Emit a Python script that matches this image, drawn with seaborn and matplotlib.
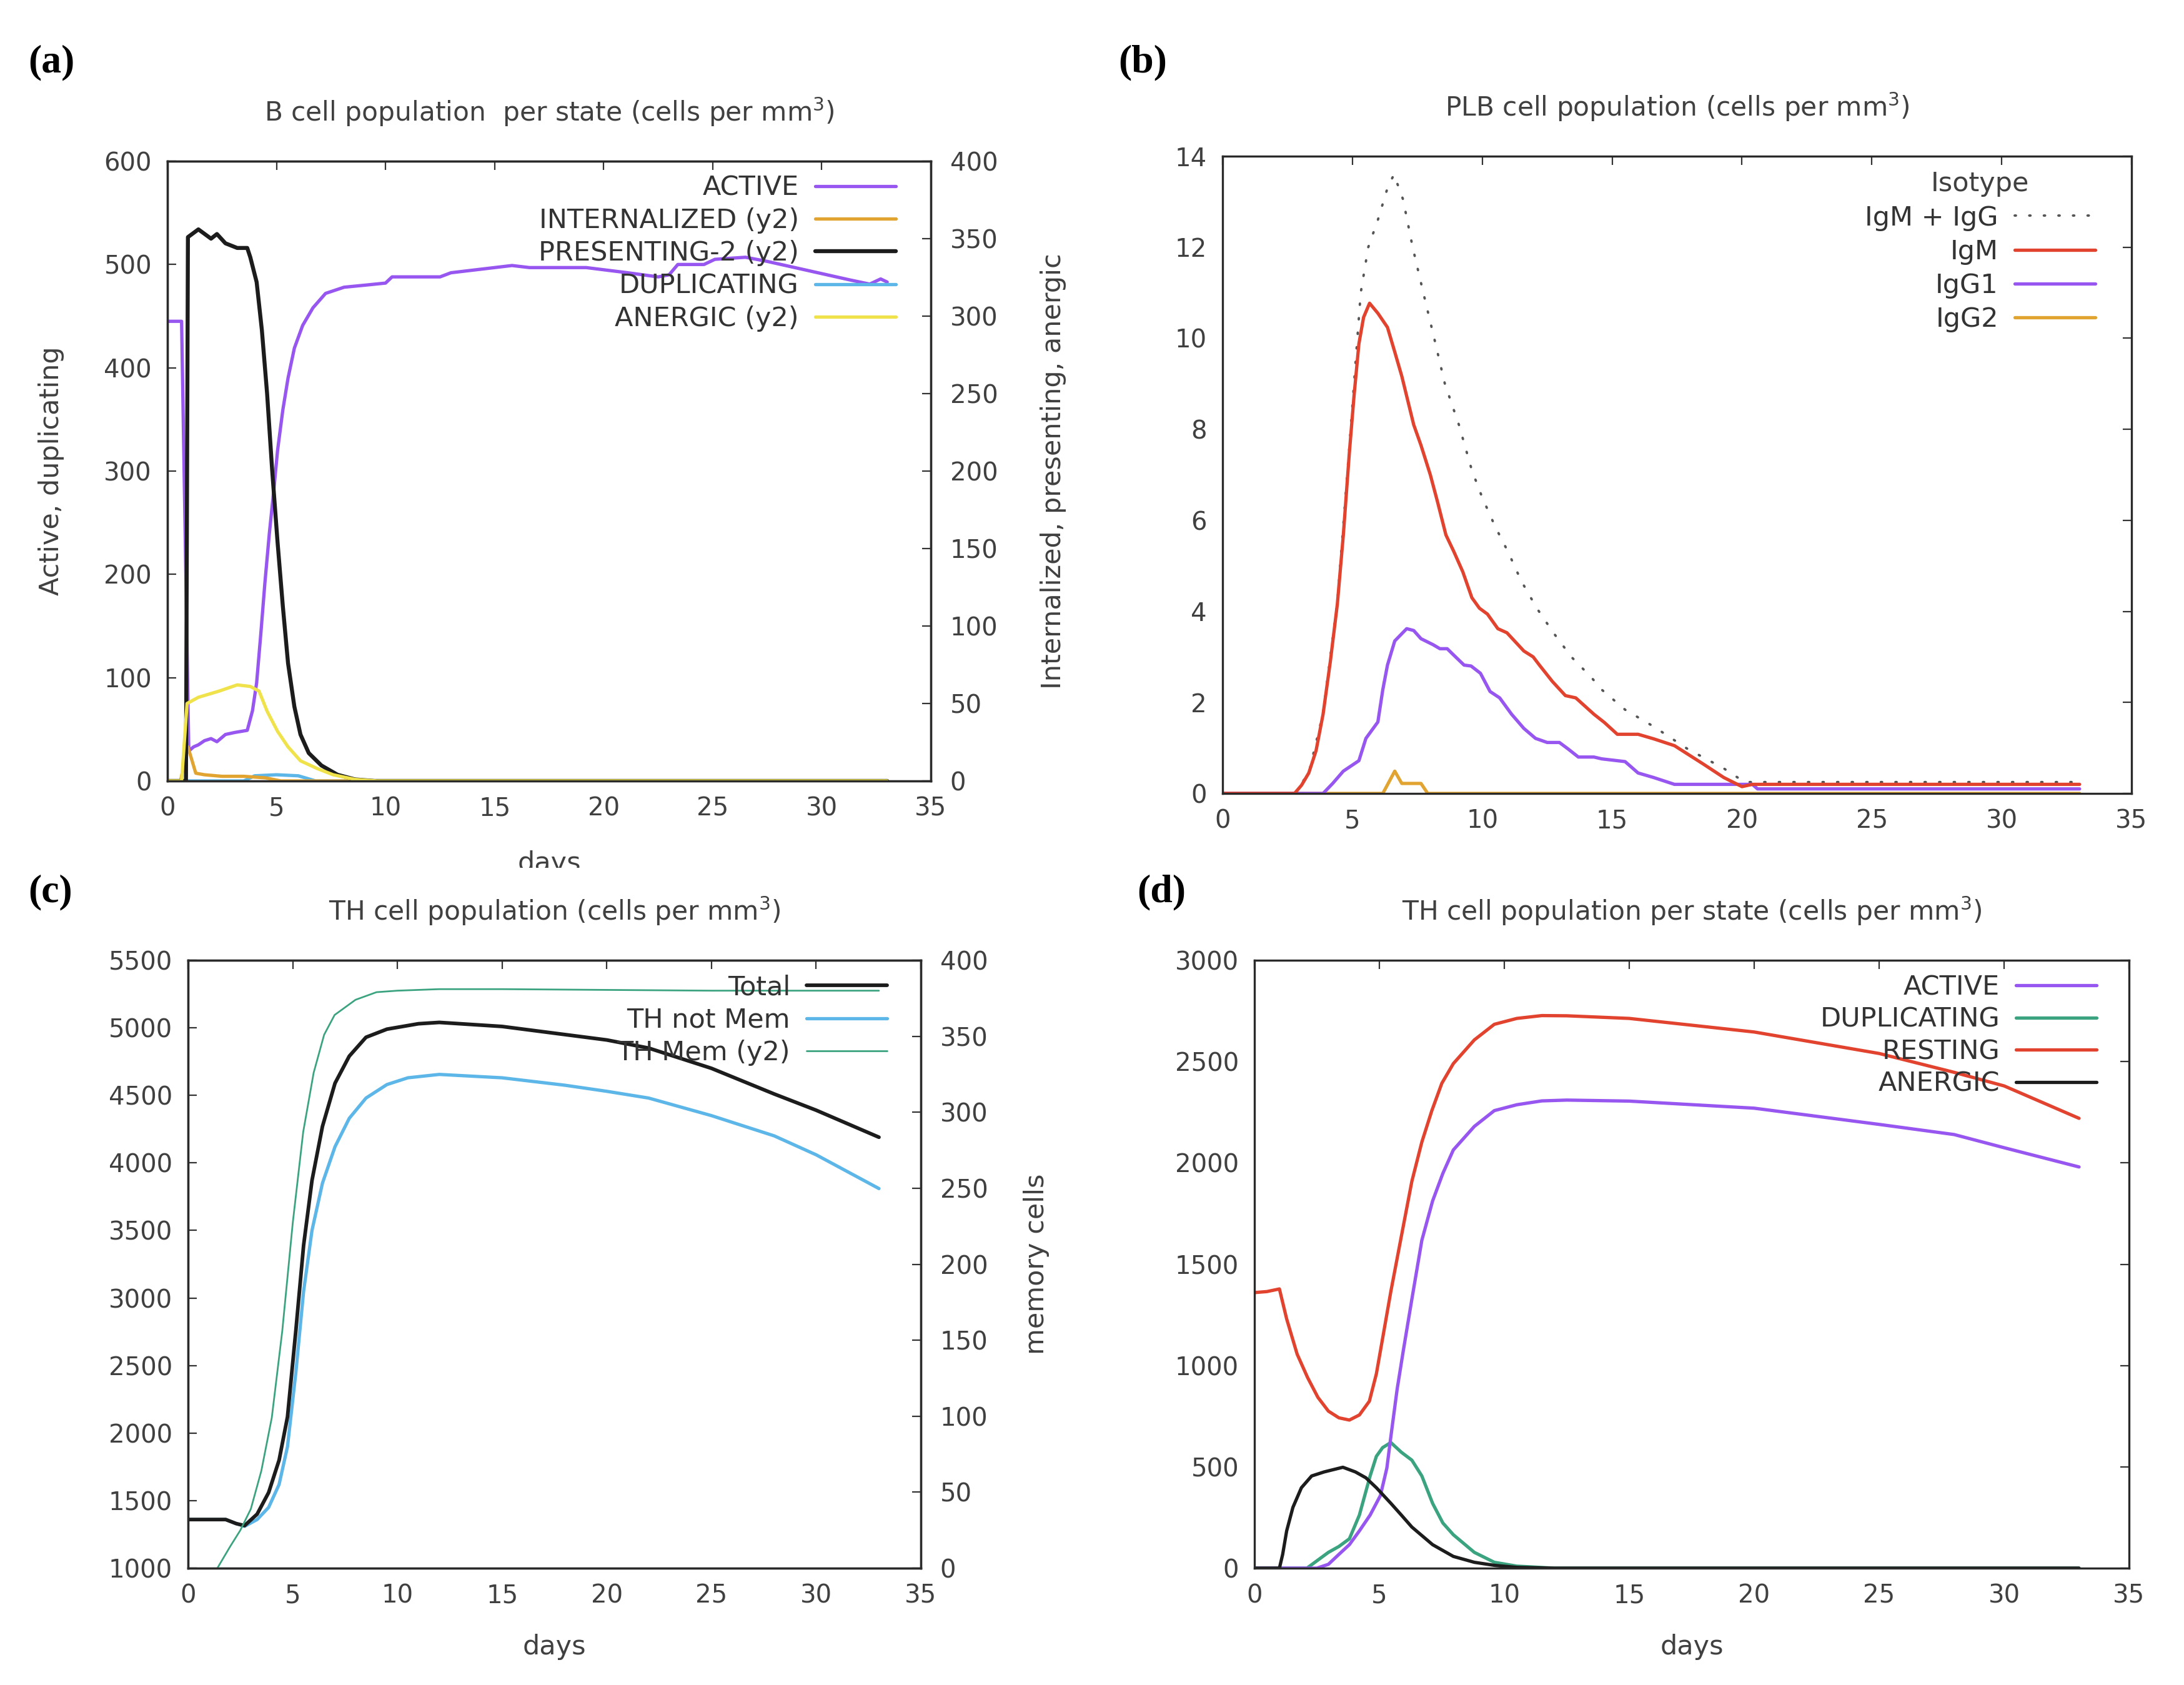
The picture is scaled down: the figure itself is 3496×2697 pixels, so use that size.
import matplotlib
matplotlib.use("Agg")
import matplotlib.pyplot as plt
from matplotlib.patches import Rectangle
import pandas as pd
import seaborn as sns

# ---------------- data ----------------
# (a) B cell population per state
a_active_day = [0, 0.65, 0.98, 1.2, 1.42, 1.7, 2.0, 2.27, 2.66, 3.1, 3.66, 3.9, 4.09, 4.28, 4.47, 4.67, 4.86,
                5.05, 5.29, 5.53, 5.82, 6.2, 6.67, 7.25, 8.1, 9.07, 10.0, 10.3, 12.5, 13.0, 14.6, 15.8, 16.6,
                19.2, 21.1, 22.5, 23.0, 23.4, 24.6, 25.1, 26.5, 27.5, 29.4, 31.3, 32.2, 32.7, 33.0]
a_active = [445, 445, 29, 33, 35, 39, 41, 38, 45, 47, 49, 68, 95, 142, 192, 239, 278,
            320, 359, 390, 419, 441, 458, 472, 478, 480, 482, 488, 488, 492, 496, 499, 497,
            497, 492, 488, 490, 500, 500, 505, 507, 503, 494, 485, 481, 486, 483]
a_present_day = [0, 0.85, 0.94, 1.42, 2.0, 2.27, 2.66, 3.2, 3.66, 3.8, 4.09, 4.33, 4.57, 4.8, 5.05, 5.29,
                 5.53, 5.82, 6.1, 6.48, 7.06, 7.8, 8.6, 9.5, 33]
a_present = [0, 0, 351, 356, 350, 353, 347, 344, 344, 338, 322, 291, 250, 201, 154, 113,
             76, 48, 30, 18, 10, 4, 1, 0, 0]
a_anergic_day = [0, 0.65, 0.9, 1.42, 2.37, 3.2, 3.8, 4.2, 4.57, 5.05, 5.53, 6.1, 6.87, 7.6, 8.6, 9.6, 33]
a_anergic = [0, 0, 50, 54, 58, 62, 61, 58, 45, 32, 22, 13, 8, 4, 1, 0, 0]
a_internal_day = [0, 0.6, 0.94, 1.3, 1.7, 2.5, 3.5, 4.5, 5.2, 33]
a_internal = [0, 0, 22, 5, 4, 3, 3, 2, 0, 0]
a_dup_day = [0, 3.5, 4.0, 5.0, 6.0, 6.8, 33]
a_dup = [0, 0, 5, 6, 5, 0, 0]

# (b) PLB cell population
b_igm_day = [0, 2.77, 3.04, 3.32, 3.6, 3.87, 4.15, 4.42, 4.65, 4.88, 5.06, 5.25, 5.43, 5.66, 5.98, 6.35,
             6.63, 6.9, 7.36, 7.64, 8.0, 8.28, 8.6, 8.9, 9.25, 9.6, 9.89, 10.2, 10.6, 10.95, 11.6, 11.96,
             12.2, 12.7, 13.2, 13.6, 14.3, 14.7, 15.2, 16.0, 16.6, 17.4, 18.5, 19.3, 20.0, 20.4, 33]
b_igm = [0, 0, 0.18, 0.45, 0.94, 1.74, 2.9, 4.16, 5.68, 7.47, 8.72, 9.88, 10.46, 10.77, 10.55, 10.24,
         9.7, 9.17, 8.1, 7.65, 7.0, 6.4, 5.68, 5.32, 4.87, 4.3, 4.07, 3.94, 3.62, 3.53, 3.13, 3.0,
         2.82, 2.46, 2.15, 2.1, 1.74, 1.56, 1.3, 1.3, 1.2, 1.05, 0.65, 0.35, 0.15, 0.2, 0.2]
b_igg1_day = [0, 3.87, 4.24, 4.65, 5.25, 5.52, 5.98, 6.17, 6.35, 6.63, 7.09, 7.36, 7.64, 8.1, 8.37, 8.65,
              8.9, 9.3, 9.57, 9.93, 10.3, 10.67, 11.13, 11.6, 12.05, 12.5, 12.97, 13.3, 13.7, 14.3, 14.6,
              15.5, 16.0, 16.6, 17.4, 20.4, 20.6, 33]
b_igg1 = [0, 0, 0.22, 0.49, 0.72, 1.21, 1.57, 2.28, 2.82, 3.35, 3.62, 3.58, 3.4, 3.27, 3.18, 3.18,
          3.04, 2.82, 2.8, 2.64, 2.24, 2.1, 1.74, 1.43, 1.21, 1.12, 1.12, 0.98, 0.8, 0.8, 0.76,
          0.7, 0.45, 0.35, 0.2, 0.2, 0.1, 0.1]
b_igg2_day = [0, 6.17, 6.63, 6.9, 7.64, 7.9, 33]
b_igg2 = [0, 0, 0.49, 0.22, 0.22, 0, 0]
b_total_day = [0, 2.77, 3.32, 3.87, 4.42, 4.88, 5.32, 5.61, 5.98, 6.35, 6.6, 6.95, 7.32, 7.73, 8.15, 8.56,
               9.1, 9.6, 10.0, 10.5, 11.0, 11.5, 12.1, 12.74, 13.43, 14.2, 14.6, 15.5, 16.6, 17.9, 19.3,
               20.1, 33]
b_total = [0, 0, 0.45, 1.76, 4.2, 7.6, 11.0, 12.0, 12.6, 13.3, 13.6, 13.05, 12.0, 11.0, 10.0, 9.0,
           8.1, 7.1, 6.5, 5.86, 5.3, 4.67, 4.07, 3.53, 3.0, 2.55, 2.28, 1.84, 1.47, 0.98, 0.55,
           0.25, 0.25]

# (c) TH cell population
c_total_day = [0, 1.8, 2.3, 2.7, 3.3, 3.85, 4.35, 4.75, 5.15, 5.52, 5.92, 6.42, 7.02, 7.7, 8.5, 9.5,
               11, 12, 15, 20, 22, 25, 28, 30, 33]
c_total = [1360, 1360, 1330, 1315, 1400, 1560, 1800, 2120, 2760, 3390, 3870, 4270, 4590, 4790, 4930, 4990,
           5030, 5040, 5010, 4910, 4850, 4700, 4510, 4390, 4190]
c_notmem_day = [0, 1.8, 2.3, 2.7, 3.3, 3.85, 4.35, 4.75, 5.15, 5.52, 5.92, 6.42, 7.02, 7.7, 8.5, 9.5,
                10.5, 12, 15, 18, 20, 22, 25, 28, 30, 33]
c_notmem = [1360, 1360, 1330, 1310, 1360, 1450, 1620, 1900, 2450, 3050, 3500, 3850, 4120, 4330, 4480, 4580,
            4630, 4655, 4630, 4575, 4530, 4480, 4350, 4200, 4060, 3810]
c_mem_day = [1.4, 2.0, 2.5, 3.0, 3.5, 4.0, 4.5, 5.0, 5.5, 6.0, 6.5, 7.0, 8.0, 9.0, 10.0, 12.0, 15, 25, 33]
c_mem = [0, 14, 25, 39, 64, 99, 156, 227, 287, 326, 351, 364, 374, 379, 380, 381, 381, 380, 380]

# (d) TH cell population per state
d_resting_day = [0, 0.5, 1.0, 1.29, 1.71, 2.13, 2.54, 2.96, 3.38, 3.8, 4.2, 4.6, 4.88, 5.13, 5.46, 5.88,
                 6.3, 6.7, 7.1, 7.5, 7.96, 8.8, 9.6, 10.5, 11.5, 12.5, 15, 20, 25, 28, 30, 33]
d_resting = [1360, 1365, 1378, 1230, 1056, 940, 843, 775, 742, 731, 756, 824, 959, 1134, 1366, 1638,
             1909, 2103, 2258, 2393, 2490, 2607, 2684, 2713, 2727, 2726, 2713, 2646, 2540, 2447, 2380, 2220]
d_active_day = [0, 2.5, 2.96, 3.38, 3.8, 4.2, 4.63, 5.04, 5.3, 5.46, 5.71, 5.96, 6.3, 6.7, 7.13, 7.54,
                7.96, 8.8, 9.6, 10.5, 11.5, 12.5, 15, 20, 25, 28, 30, 33]
d_active = [0, 0, 19, 68, 116, 184, 262, 358, 494, 649, 882, 1075, 1327, 1618, 1812, 1948,
            2064, 2180, 2258, 2287, 2306, 2310, 2305, 2270, 2190, 2140, 2075, 1980]
d_dup_day = [0, 2.1, 2.96, 3.38, 3.8, 4.2, 4.63, 4.88, 5.13, 5.46, 5.88, 6.3, 6.7, 7.13, 7.54, 7.96,
             8.8, 9.6, 10.5, 12, 33]
d_dup = [0, 0, 78, 107, 145, 262, 455, 552, 595, 620, 572, 533, 455, 320, 223, 165, 78, 29, 10, 0, 0]
d_anergic_day = [0, 1.0, 1.13, 1.29, 1.54, 1.88, 2.29, 2.79, 3.54, 4.04, 4.46, 4.88, 5.46, 5.88, 6.3,
                 7.13, 7.96, 8.8, 9.6, 10.5, 12, 33]
d_anergic = [0, 0, 68, 184, 300, 397, 455, 475, 498, 475, 446, 397, 320, 262, 203, 116, 58, 29, 14, 4, 0, 0]

# ---------------- style ----------------
sns.set_style("white")
plt.rcParams["font.family"] = ["DejaVu Sans"]
TXT = "#404040"
PURPLE = "#9656ef"
ORANGE = "#e2a431"
BLACK = "#1c1c1c"
SKY = "#5cb6e8"
YELLOW = "#f0e24a"
RED = "#e2432f"
GREEN = "#3ba37f"
TICK_FS = 29
LAB_FS = 31
TITLE_FS = 30.5
LW = 3.8
W, H = 3496, 2697


def add_axes(left, top, right, bottom):
    return fig.add_axes([left / W, 1 - bottom / H, (right - left) / W, (bottom - top) / H])


def style(ax, right=True):
    for sp in ax.spines.values():
        sp.set_color("#2a2a2a")
        sp.set_linewidth(2.4)
    ax.tick_params(direction="in", length=10, width=1.6, color="#333333", labelsize=TICK_FS,
                   labelcolor=TXT, pad=18, top=True, right=right, labelright=False)
    ax.set_xlim(0, 35)
    ax.set_xticks(range(0, 36, 5))
    ax.set_xlabel("")
    ax.set_ylabel("")


def line(ax, days, vals, color, lw=LW, **kw):
    df = pd.DataFrame({"day": days, "value": vals})
    sns.lineplot(data=df, x="day", y="value", ax=ax, color=color, linewidth=lw,
                 estimator=None, legend=False, **kw)
    return ax.lines[-1]


def key(ax, handles, labels, anchor, title=None, spacing=0.24):
    leg = ax.legend(handles, labels, loc="upper right", bbox_to_anchor=anchor, frameon=False,
                    markerfirst=False, fontsize=LAB_FS, labelcolor="#333333", handlelength=3.0,
                    handletextpad=0.6, labelspacing=spacing, borderpad=0, borderaxespad=0,
                    title=title, title_fontsize=LAB_FS)
    if title:
        leg.get_title().set_color(TXT)
    return leg


fig = plt.figure(figsize=(W / 100, H / 100), dpi=100)

# ---------------- (a) ----------------
ax = add_axes(268, 258, 1490, 1250)
ax2 = ax.twinx()
h_dup = line(ax, a_dup_day, a_dup, SKY)
h_act = line(ax, a_active_day, a_active, PURPLE)
h_int = line(ax2, a_internal_day, a_internal, ORANGE)
h_pre = line(ax2, a_present_day, a_present, BLACK, lw=4.6)
h_ane = line(ax2, a_anergic_day, a_anergic, YELLOW)
style(ax, right=False)
style(ax2)
ax2.tick_params(right=True, labelright=True, pad=22)
ax.set_ylim(0, 600)
ax.set_yticks(range(0, 601, 100))
ax2.set_ylim(0, 400)
ax2.set_yticks(range(0, 401, 50))
ax.set_title("B cell population  per state (cells per mm$^3$)", fontsize=TITLE_FS, color=TXT, pad=46)
ax.set_ylabel("Active, duplicating", fontsize=LAB_FS, color=TXT)
ax.yaxis.set_label_coords(-0.135, 0.5)
ax2.set_ylabel("Internalized, presenting, anergic", fontsize=LAB_FS, color=TXT)
ax2.yaxis.set_label_coords(1.143, 0.5)
ax.set_xlabel("days", fontsize=LAB_FS, color=TXT)
ax.xaxis.set_label_coords(0.5, -0.112)
key(ax2, [h_act, h_int, h_pre, h_dup, h_ane],
    ["ACTIVE", "INTERNALIZED (y2)", "PRESENTING-2 (y2)", "DUPLICATING", "ANERGIC (y2)"],
    (0.954, 0.978))

# ---------------- (b) ----------------
bx = add_axes(1957, 250, 3412, 1270)
h_tot = line(bx, b_total_day, b_total, "#555555", lw=2.8,
             linestyle=(0, (0.5, 5.5)), dash_capstyle="round")
h_igg2 = line(bx, b_igg2_day, b_igg2, ORANGE)
h_igg1 = line(bx, b_igg1_day, b_igg1, PURPLE)
h_igm = line(bx, b_igm_day, b_igm, RED)
style(bx)
bx.set_ylim(0, 14)
bx.set_yticks(range(0, 15, 2))
bx.set_title("PLB cell population (cells per mm$^3$)", fontsize=TITLE_FS, color=TXT, pad=46)
key(bx, [h_tot, h_igm, h_igg1, h_igg2], ["IgM + IgG", "IgM", "IgG1", "IgG2"],
    (0.96, 0.977), title="Isotype", spacing=0.28)

# ---------------- (c) ----------------
cx = add_axes(301, 1537, 1474, 2510)
cx2 = cx.twinx()
h_nm = line(cx, c_notmem_day, c_notmem, SKY)
h_tt = line(cx, c_total_day, c_total, BLACK, lw=4.2)
h_mem = line(cx2, c_mem_day, c_mem, GREEN, lw=2.0)
style(cx, right=False)
style(cx2)
cx2.tick_params(right=True, labelright=True, pad=22)
cx.set_ylim(1000, 5500)
cx.set_yticks(range(1000, 5501, 500))
cx2.set_ylim(0, 400)
cx2.set_yticks(range(0, 401, 50))
cx.set_title("TH cell population (cells per mm$^3$)", fontsize=TITLE_FS, color=TXT, pad=46)
cx2.set_ylabel("memory cells", fontsize=LAB_FS, color=TXT)
cx2.yaxis.set_label_coords(1.14, 0.5)
cx.set_xlabel("days", fontsize=LAB_FS, color=TXT)
cx.xaxis.set_label_coords(0.5, -0.108)
key(cx2, [h_tt, h_nm, h_mem], ["Total", "TH not Mem", "TH Mem (y2)"], (0.954, 0.977))

# ---------------- (d) ----------------
dx = add_axes(2008, 1537, 3408, 2510)
h_dd = line(dx, d_dup_day, d_dup, GREEN)
h_da = line(dx, d_active_day, d_active, PURPLE)
h_dr = line(dx, d_resting_day, d_resting, RED)
h_dn = line(dx, d_anergic_day, d_anergic, BLACK)
style(dx)
dx.set_ylim(0, 3000)
dx.set_yticks(range(0, 3001, 500))
dx.set_title("TH cell population per state (cells per mm$^3$)", fontsize=TITLE_FS, color=TXT, pad=46)
dx.set_xlabel("days", fontsize=LAB_FS, color=TXT)
dx.xaxis.set_label_coords(0.5, -0.108)
key(dx, [h_da, h_dd, h_dr, h_dn], ["ACTIVE", "DUPLICATING", "RESTING", "ANERGIC"], (0.963, 0.977),
    spacing=0.22)

# the (a) x label is cut off by the lower panel in the reference
fig.add_artist(Rectangle((0, 1 - 1410 / H), 1748 / W, 21 / H, transform=fig.transFigure,
                         facecolor="white", edgecolor="none", zorder=100))

# panel letters
for lbl, px, py in [("(a)", 45, 100), ("(b)", 1790, 100), ("(c)", 45, 1428), ("(d)", 1820, 1428)]:
    t = fig.text(px / W, 1 - py / H, lbl, fontsize=46, fontweight="bold", va="center", ha="left",
                 family=["Liberation Serif", "DejaVu Serif"], color="black")
    t.set_zorder(110)

fig.savefig("out.png", dpi=100, facecolor="white")
